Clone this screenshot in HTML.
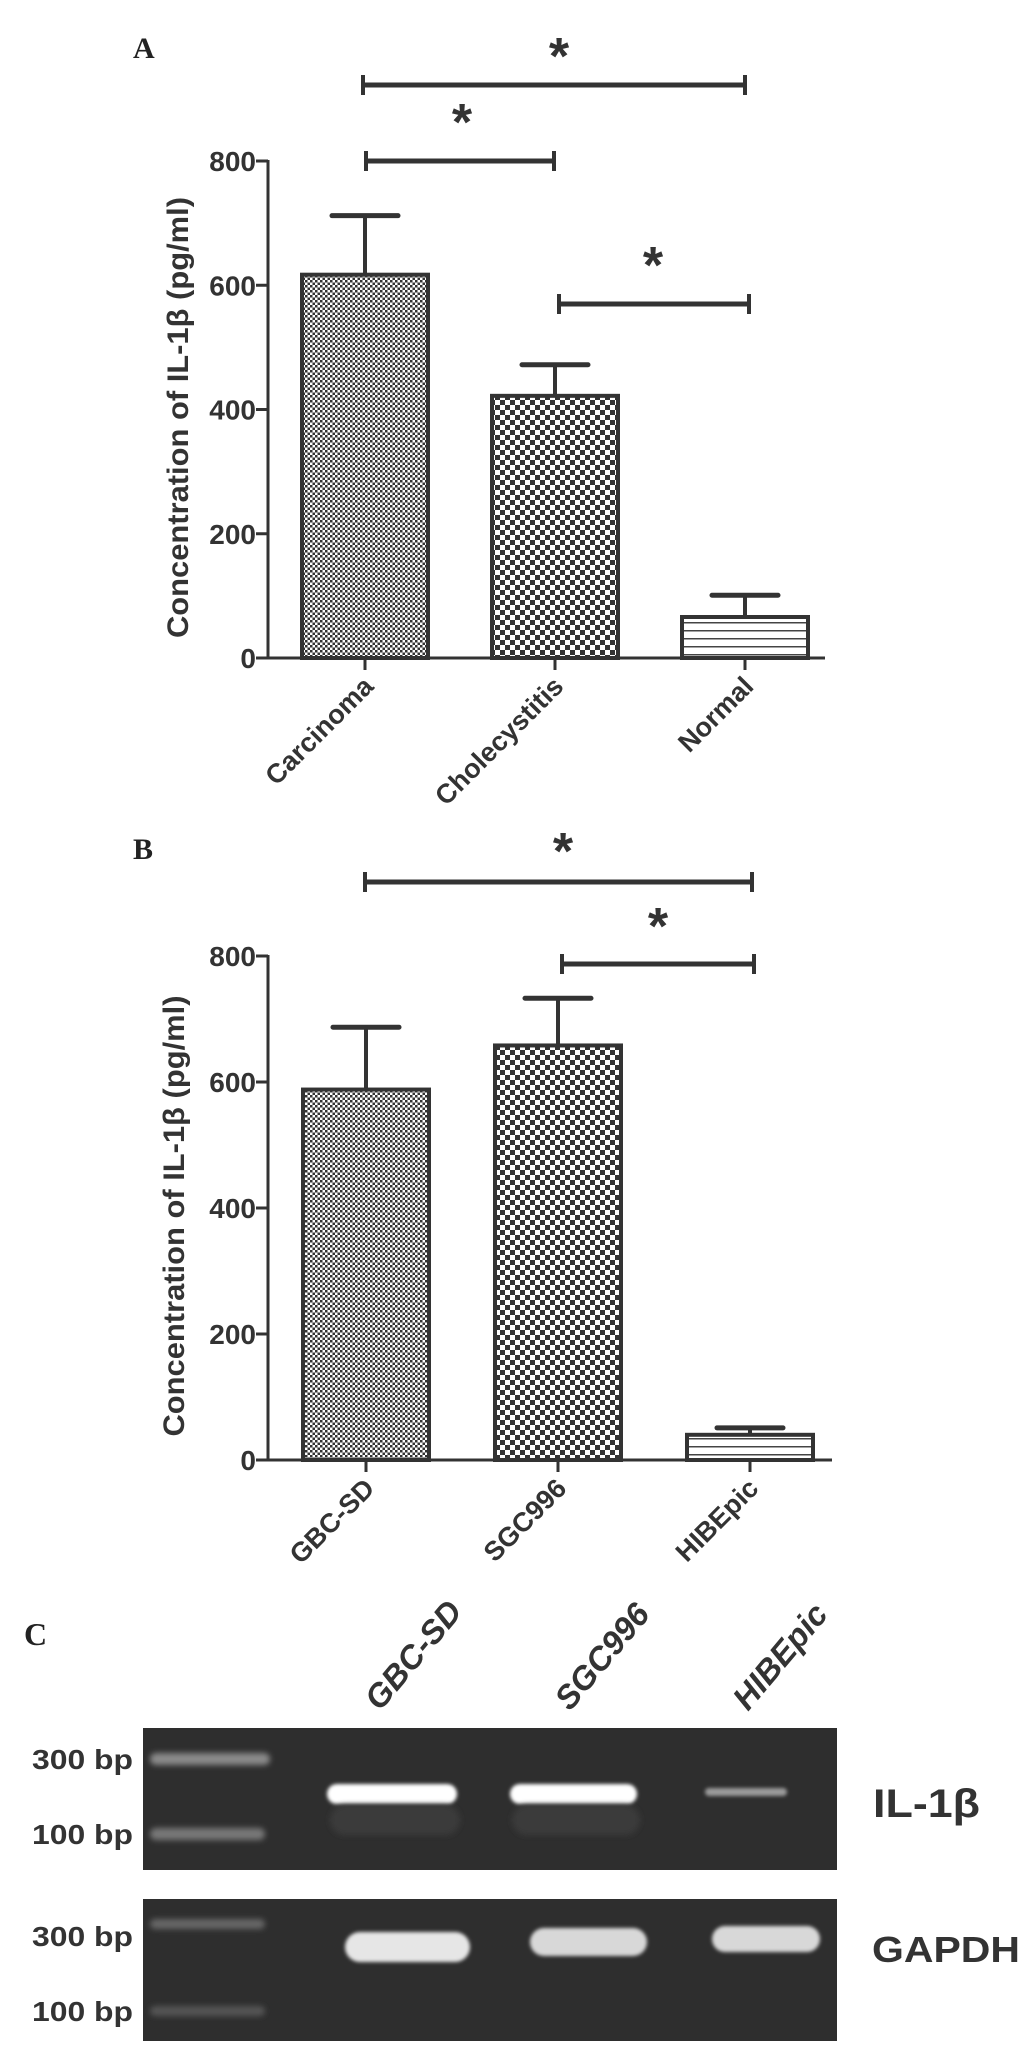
<!DOCTYPE html>
<html><head><meta charset="utf-8"><style>
html,body{margin:0;padding:0;background:#fff;}
svg{display:block;}
text{font-family:"Liberation Sans",Arial,sans-serif;font-weight:bold;fill:#333;}
.serif{font-family:"Liberation Serif",serif;fill:#222;}
</style></head><body>
<svg id="fig" width="1033" height="2059" viewBox="0 0 1033 2059" xmlns="http://www.w3.org/2000/svg">
<defs>
<pattern id="fine" width="5" height="5" patternUnits="userSpaceOnUse"><rect width="5" height="5" fill="#fff"/><rect width="2.5" height="2.5" fill="#333"/><rect x="2.5" y="2.5" width="2.5" height="2.5" fill="#333"/></pattern>
<pattern id="coarse" width="10" height="10" patternUnits="userSpaceOnUse"><rect width="10" height="10" fill="#fff"/><rect width="5" height="5" fill="#333"/><rect x="5" y="5" width="5" height="5" fill="#333"/></pattern>
<pattern id="hlines" width="8" height="8" patternUnits="userSpaceOnUse"><rect width="8" height="8" fill="#fff"/><rect y="6" width="8" height="1.5" fill="#444"/></pattern>
<filter id="blur" x="-20%" y="-100%" width="140%" height="300%"><feGaussianBlur stdDeviation="3"/></filter>
<filter id="blur2" x="-20%" y="-100%" width="140%" height="300%"><feGaussianBlur stdDeviation="1.8"/></filter>
</defs>
<text class="serif" x="133" y="58" font-size="30">A</text>
<text class="serif" x="133" y="859" font-size="30">B</text>
<text class="serif" x="24" y="1645" font-size="32">C</text>
<g id="chartA"></g>
<g id="chartB"></g>
<g id="gel"></g>
</svg>
<script>
const catsA = ["Carcinoma","Cholecystitis","Normal"];
const valsA = [617, 422, 66];
const errA = [712, 472, 101];
const catsB = ["GBC-SD","SGC996","HIBEpic"];
const valsB = [588, 658, 40];
const errB = [687, 733, 51];
const ticks = [0,200,400,600,800];
const fills = ["url(#fine)","url(#coarse)","url(#hlines)"];
const NS="http://www.w3.org/2000/svg";
function mk(p,tag,attrs,txt){const e=document.createElementNS(NS,tag);for(const k in attrs)e.setAttribute(k,attrs[k]);if(txt!==undefined)e.textContent=txt;p.appendChild(e);return e;}
function chart(g,cfg){
  const y=v=>cfg.y0-(v/800)*(cfg.y0-cfg.y800);
  const x=i=>cfg.x0+i*cfg.step;
  cfg.vals.forEach((v,i)=>{
    const eb=mk(g,'line',{x1:x(i),x2:x(i),y1:y(v),y2:y(cfg.err[i]),stroke:'#333','stroke-width':4});
    
    
    const cap=mk(g,'line',{x1:x(i)-33,x2:x(i)+33,y1:y(cfg.err[i]),y2:y(cfg.err[i]),stroke:'#333','stroke-width':5,'stroke-linecap':'round'});
    
    
    const r=mk(g,'rect',{x:x(i)-63,y:y(v),width:126,height:cfg.y0-y(v),fill:fills[i],stroke:'#333','stroke-width':4});
    
    
  });
  const ya=mk(g,'line',{x1:268,x2:268,y1:y(800)-1,y2:cfg.y0+1,stroke:'#333','stroke-width':3});
  
  
  const xa=mk(g,'line',{x1:266,x2:cfg.xend,y1:cfg.y0,y2:cfg.y0,stroke:'#333','stroke-width':3});
  
  
  ticks.forEach(t=>{
    mk(g,'line',{x1:256,x2:268,y1:y(t),y2:y(t),stroke:'#333','stroke-width':3});
    const tl=mk(g,'text',{x:256,y:y(t)+10,'font-size':28,'text-anchor':'end'},String(t));
    
    
  });
  cfg.cats.forEach((c,i)=>{
    mk(g,'line',{x1:x(i),x2:x(i),y1:cfg.y0,y2:cfg.y0+12,stroke:'#333','stroke-width':3});
    const tl=mk(g,'text',{x:0,y:0,'font-size':27,'text-anchor':'end',transform:`translate(${x(i)+10},${cfg.y0+30}) rotate(-45)`},c);
    
    
  });
  const yt=mk(g,'text',{x:0,y:0,'font-size':30,'text-anchor':'middle',textLength:441,lengthAdjust:'spacingAndGlyphs',transform:`translate(${cfg.titleX},${(y(800)+cfg.y0)/2+8}) rotate(-90)`},'Concentration of IL-1\u03B2  (pg/ml)');
  
  
  cfg.brackets.forEach(b=>{
    const bg=mk(g,'g',{});
    
    
    mk(bg,'line',{x1:b[0],x2:b[1],y1:b[2],y2:b[2],stroke:'#333','stroke-width':5});
    mk(bg,'line',{x1:b[0],x2:b[0],y1:b[2]-10,y2:b[2]+10,stroke:'#333','stroke-width':4});
    mk(bg,'line',{x1:b[1],x2:b[1],y1:b[2]-10,y2:b[2]+10,stroke:'#333','stroke-width':4});
    mk(bg,'text',{x:b[3],y:b[4]+25,'font-size':52,'text-anchor':'middle'},'*');
  });
}
chart(document.getElementById('chartA'),{cats:catsA,vals:valsA,err:errA,y0:658,y800:161,x0:365,step:190,xend:825,titleX:188,
  brackets:[[363,745,85,559,49],[366,554,161,462,115],[559,749,304,653,258]]});
chart(document.getElementById('chartB'),{cats:catsB,vals:valsB,err:errB,y0:1460,y800:956,x0:366,step:192,xend:832,titleX:184,
  brackets:[[365,752,882,563,844],[562,754,964,658,919]]});
const gel=document.getElementById('gel');
const lanes=["GBC-SD","SGC996","HIBEpic"];
lanes.forEach((l,i)=>{
  const t=mk(gel,'text',{x:0,y:0,'font-size':33,'font-style':'italic','text-anchor':'start',transform:`translate(${[380,570,748][i]},${1712}) rotate(-50)`},l);
  
  
});
function gelBox(y1,y2,name){const r=mk(gel,'rect',{x:143,y:y1,width:694,height:y2-y1,fill:'#2e2e2e'});}
gelBox(1728,1870,'il1b-gel');
gelBox(1899,2041,'gapdh-gel');
function band(x1,x2,yc,h,col,f){mk(gel,'rect',{x:x1,y:yc-h/2,width:x2-x1,height:h,rx:h/2,fill:col,filter:f});}
band(150,270,1759,12,'#8a8a8a','url(#blur)');
band(150,265,1834,12,'#777','url(#blur)');
band(327,457,1794,20,'#fff','url(#blur2)');
band(510,637,1794,20,'#fff','url(#blur2)');
band(705,787,1792,8,'#9a9a9a','url(#blur2)');
band(330,460,1820,30,'#3a3a3a','url(#blur)');
band(512,640,1820,30,'#3a3a3a','url(#blur)');
band(150,265,1924,10,'#666','url(#blur)');
band(150,265,2011,10,'#555','url(#blur)');
band(345,470,1947,30,'#e6e6e6','url(#blur2)');
band(530,647,1942,28,'#d8d8d8','url(#blur2)');
band(712,820,1939,26,'#d8d8d8','url(#blur2)');
[["300 bp",1769],["100 bp",1844],["300 bp",1946],["100 bp",2021]].forEach(a=>{
  const t=mk(gel,'text',{x:32,y:a[1],'font-size':28,textLength:101,lengthAdjust:'spacingAndGlyphs'},a[0]);
  
  
});
const t1=mk(gel,'text',{x:873,y:1817,'font-size':40,textLength:107,lengthAdjust:'spacingAndGlyphs'},'IL-1\u03B2');


const t2=mk(gel,'text',{x:872,y:1962,'font-size':36,textLength:148,lengthAdjust:'spacingAndGlyphs'},'GAPDH');


</script>
</body></html>
